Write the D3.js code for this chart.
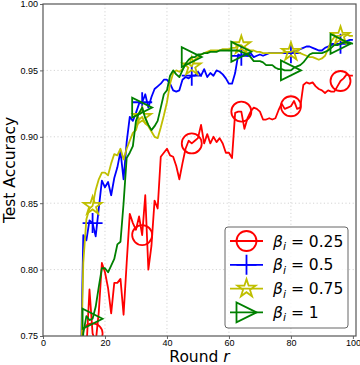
<!DOCTYPE html>
<html>
<head>
<meta charset="utf-8">
<script src="https://cdn.jsdelivr.net/npm/d3@7"></script>
<style>
  body { margin: 0; background: #fff; }
  svg { display: block; font-family: "DejaVu Sans", sans-serif; }
  .grid line { stroke: #d4d4d4; stroke-width: 1; stroke-dasharray: 1.2,2.4; }
  .axis path { display: none; }
  .axis line { stroke: #666; }
  .axis text { fill: #000; font-size: 9px; }
</style>
</head>
<body>
<svg id="chart" width="360" height="365"></svg>
<script>
// rounds shown on the x axis (round 12 sits below the visible range)
const rounds = d3.range(12, 101);
const markerRounds = [16, 32, 48, 64, 80, 96];
const xTicks = [0, 20, 40, 60, 80, 100];
const yTicks = [0.75, 0.80, 0.85, 0.90, 0.95, 1.00];

// test accuracy per round, beta_i = 0.25
const acc025 = [
  0.700, 0.720, 0.740, 0.785, 0.752, 0.745, 0.768, 0.805, 0.798, 0.786,
  0.767, 0.790, 0.790, 0.793, 0.766, 0.805, 0.842, 0.835, 0.830, 0.840,
  0.826, 0.856, 0.800, 0.818, 0.852, 0.846, 0.885, 0.888, 0.891, 0.886,
  0.885, 0.878, 0.868, 0.880, 0.891, 0.897, 0.895, 0.897, 0.899, 0.909,
  0.895, 0.902, 0.895, 0.900, 0.896, 0.899, 0.895, 0.888, 0.888, 0.884,
  0.918, 0.919, 0.919, 0.906, 0.914, 0.919, 0.922, 0.921, 0.919, 0.913,
  0.913, 0.914, 0.913, 0.914, 0.920, 0.925, 0.921, 0.922, 0.923, 0.927,
  0.921, 0.922, 0.939, 0.941, 0.940, 0.941, 0.938, 0.936, 0.935, 0.933,
  0.935, 0.934, 0.934, 0.938, 0.942, 0.944, 0.947, 0.946, 0.946
];
// beta_i = 0.5
const acc05 = [
  0.700, 0.826, 0.822, 0.837, 0.835, 0.825, 0.846, 0.867, 0.862, 0.866,
  0.856, 0.869, 0.877, 0.889, 0.868, 0.896, 0.915, 0.912, 0.918, 0.925,
  0.926, 0.932, 0.922, 0.930, 0.936, 0.938, 0.940, 0.943, 0.943, 0.940,
  0.935, 0.934, 0.935, 0.943, 0.945, 0.944, 0.946, 0.946, 0.949, 0.946,
  0.951, 0.945, 0.948, 0.946, 0.950, 0.949, 0.947, 0.944, 0.940, 0.940,
  0.948, 0.962, 0.961, 0.962, 0.961, 0.963, 0.960, 0.961, 0.962, 0.961,
  0.962, 0.963, 0.963, 0.963, 0.963, 0.963, 0.963, 0.964, 0.963, 0.964,
  0.965, 0.966, 0.967, 0.968, 0.968, 0.967, 0.966, 0.965, 0.965, 0.967,
  0.968, 0.969, 0.970, 0.970, 0.970, 0.972, 0.972, 0.973, 0.973
];
// beta_i = 0.75
const acc075 = [
  0.700, 0.805, 0.838, 0.846, 0.848, 0.860, 0.868, 0.873, 0.873, 0.871,
  0.880, 0.887, 0.886, 0.891, 0.883, 0.891, 0.897, 0.903, 0.905, 0.913,
  0.915, 0.910, 0.908, 0.904, 0.900, 0.899, 0.907, 0.916, 0.926, 0.940,
  0.948, 0.950, 0.949, 0.951, 0.954, 0.955, 0.953, 0.958, 0.960, 0.962,
  0.963, 0.964, 0.965, 0.965, 0.965, 0.965, 0.966, 0.966, 0.966, 0.967,
  0.967, 0.969, 0.969, 0.967, 0.966, 0.965, 0.965, 0.964, 0.964, 0.963,
  0.963, 0.963, 0.963, 0.963, 0.963, 0.963, 0.964, 0.964, 0.964, 0.965,
  0.964, 0.963, 0.962, 0.961, 0.960, 0.960, 0.959, 0.958, 0.959, 0.961,
  0.966, 0.972, 0.975, 0.976, 0.976, 0.977, 0.977, 0.976, 0.976
];
// beta_i = 1
const acc1 = [
  0.700, 0.752, 0.765, 0.762, 0.763, 0.772, 0.787, 0.801, 0.801, 0.798,
  0.803, 0.808, 0.819, 0.821, 0.850, 0.884, 0.888, 0.893, 0.912, 0.918,
  0.922, 0.914, 0.909, 0.905, 0.908, 0.912, 0.922, 0.932, 0.935, 0.946,
  0.950, 0.947, 0.945, 0.950, 0.955, 0.958, 0.960, 0.960, 0.962, 0.962,
  0.963, 0.963, 0.964, 0.964, 0.964, 0.965, 0.965, 0.965, 0.965, 0.965,
  0.965, 0.965, 0.964, 0.963, 0.962, 0.960, 0.957, 0.957, 0.957, 0.956,
  0.954, 0.954, 0.954, 0.952, 0.951, 0.951, 0.950, 0.950, 0.950, 0.952,
  0.953, 0.954, 0.956, 0.959, 0.962, 0.963, 0.963, 0.963, 0.963, 0.964,
  0.965, 0.967, 0.969, 0.969, 0.970, 0.971, 0.971, 0.971, 0.970
];

const seriesLabels = ["0.25", "0.5", "0.75", "1"];
const seriesColors = ["#ff0000", "#0000ff", "#bfbf00", "#008000"];
const seriesShapes = ["circle", "plus", "star", "triangle"];
const seriesValues = [acc025, acc05, acc075, acc1];

const svg = d3.select("#chart");
const margin = {top: 4, right: 4, bottom: 29, left: 43};
const width = +svg.attr("width") - margin.left - margin.right;
const height = +svg.attr("height") - margin.top - margin.bottom;

const xScale = d3.scaleLinear().domain([0, 101]).range([0, width]);
const yScale = d3.scaleLinear().domain([0.75, 1.0]).range([height, 0]);

const g = svg.append("g")
    .attr("transform", "translate(" + margin.left + "," + margin.top + ")");

svg.append("defs").append("clipPath")
    .attr("id", "clip")
  .append("rect")
    .attr("width", width)
    .attr("height", height);

// dotted grid
g.append("g").attr("class", "grid")
  .selectAll("line.v").data(xTicks.slice(1, -1)).enter().append("line")
    .attr("x1", d => xScale(d)).attr("x2", d => xScale(d))
    .attr("y1", 0).attr("y2", height);
g.append("g").attr("class", "grid")
  .selectAll("line.h").data(yTicks.slice(1, -1)).enter().append("line")
    .attr("y1", d => yScale(d)).attr("y2", d => yScale(d))
    .attr("x1", 0).attr("x2", width);

// axes
g.append("g")
    .attr("class", "axis axis--x")
    .attr("transform", "translate(0," + height + ")")
    .call(d3.axisBottom(xScale).tickValues(xTicks).tickSize(3).tickPadding(1));

g.append("g")
    .attr("class", "axis axis--y")
    .call(d3.axisLeft(yScale).tickValues(yTicks).tickFormat(d3.format(".2f")).tickSize(3).tickPadding(2));

// marker shapes
function markerPath(shape, s) {
  if (shape === "circle") {
    return d3.arc()({innerRadius: 0, outerRadius: s, startAngle: 0, endAngle: 2 * Math.PI});
  }
  if (shape === "plus") {
    return "M" + (-s) + ",0H" + s + "M0," + (-s) + "V" + s;
  }
  if (shape === "triangle") {
    return "M" + s + ",0L" + (-s) + "," + (-s) + "L" + (-s) + "," + s + "Z";
  }
  // five point star
  let pts = [];
  for (let k = 0; k < 10; k++) {
    let r = k % 2 === 0 ? s : s * 0.381966;
    let a = -Math.PI / 2 + k * Math.PI / 5;
    pts.push([r * Math.cos(a), r * Math.sin(a)]);
  }
  return "M" + pts.map(p => p[0].toFixed(2) + "," + p[1].toFixed(2)).join("L") + "Z";
}
const markerSize = {circle: 10, plus: 10, star: 9.5, triangle: 10};

const line = d3.line()
    .x((d, i) => xScale(rounds[i]))
    .y(d => yScale(d));

const plot = g.append("g").attr("clip-path", "url(#clip)");

seriesValues.forEach((vals, k) => {
  plot.append("path")
      .datum(vals)
      .attr("fill", "none")
      .attr("stroke", seriesColors[k])
      .attr("stroke-width", 1.8)
      .attr("stroke-linejoin", "round")
      .attr("d", line);

  plot.selectAll(".m" + k)
      .data(markerRounds)
    .enter().append("path")
      .attr("class", "m" + k)
      .attr("transform", r => "translate(" + xScale(r) + "," + yScale(vals[rounds.indexOf(r)]) + ")")
      .attr("d", markerPath(seriesShapes[k], markerSize[seriesShapes[k]]))
      .attr("fill", "none")
      .attr("stroke", seriesColors[k])
      .attr("stroke-width", 1.8);
});

// frame
g.append("rect")
    .attr("width", width)
    .attr("height", height)
    .attr("fill", "none")
    .attr("stroke", "#555")
    .attr("stroke-width", 1.2);

// axis labels
svg.append("text")
    .attr("transform", "translate(15," + (margin.top + height / 2) + ") rotate(-90)")
    .attr("text-anchor", "middle")
    .style("font-size", "15.5px")
    .text("Test Accuracy");

const xl = svg.append("text")
    .attr("x", margin.left + width / 2)
    .attr("y", 362)
    .attr("text-anchor", "middle")
    .style("font-size", "15.5px");
xl.append("tspan").text("Round ");
xl.append("tspan").style("font-style", "italic").text("r");

// legend
const legend = svg.append("g").attr("transform", "translate(225,227)");
legend.append("rect")
    .attr("width", 123)
    .attr("height", 101)
    .attr("rx", 3)
    .attr("fill", "#fff")
    .attr("fill-opacity", 0.8)
    .attr("stroke", "#666")
    .attr("stroke-width", 1);

seriesLabels.forEach((lab, k) => {
  const row = legend.append("g").attr("transform", "translate(0," + (14 + k * 23.8) + ")");
  row.append("line")
      .attr("x1", 5).attr("x2", 38)
      .attr("stroke", seriesColors[k])
      .attr("stroke-width", 1.8);
  row.append("path")
      .attr("transform", "translate(21.5,0)")
      .attr("d", markerPath(seriesShapes[k], markerSize[seriesShapes[k]]))
      .attr("fill", "none")
      .attr("stroke", seriesColors[k])
      .attr("stroke-width", 1.8);
  const t = row.append("text")
      .attr("x", 48)
      .attr("y", 5.5)
      .style("font-size", "15.5px");
  t.append("tspan").style("font-style", "italic").text("\u03b2");
  t.append("tspan").style("font-style", "italic").style("font-size", "11px").attr("dy", 3.5).text("i");
  t.append("tspan").attr("dy", -3.5).text(" = " + lab);
});
</script>
</body>
</html>
